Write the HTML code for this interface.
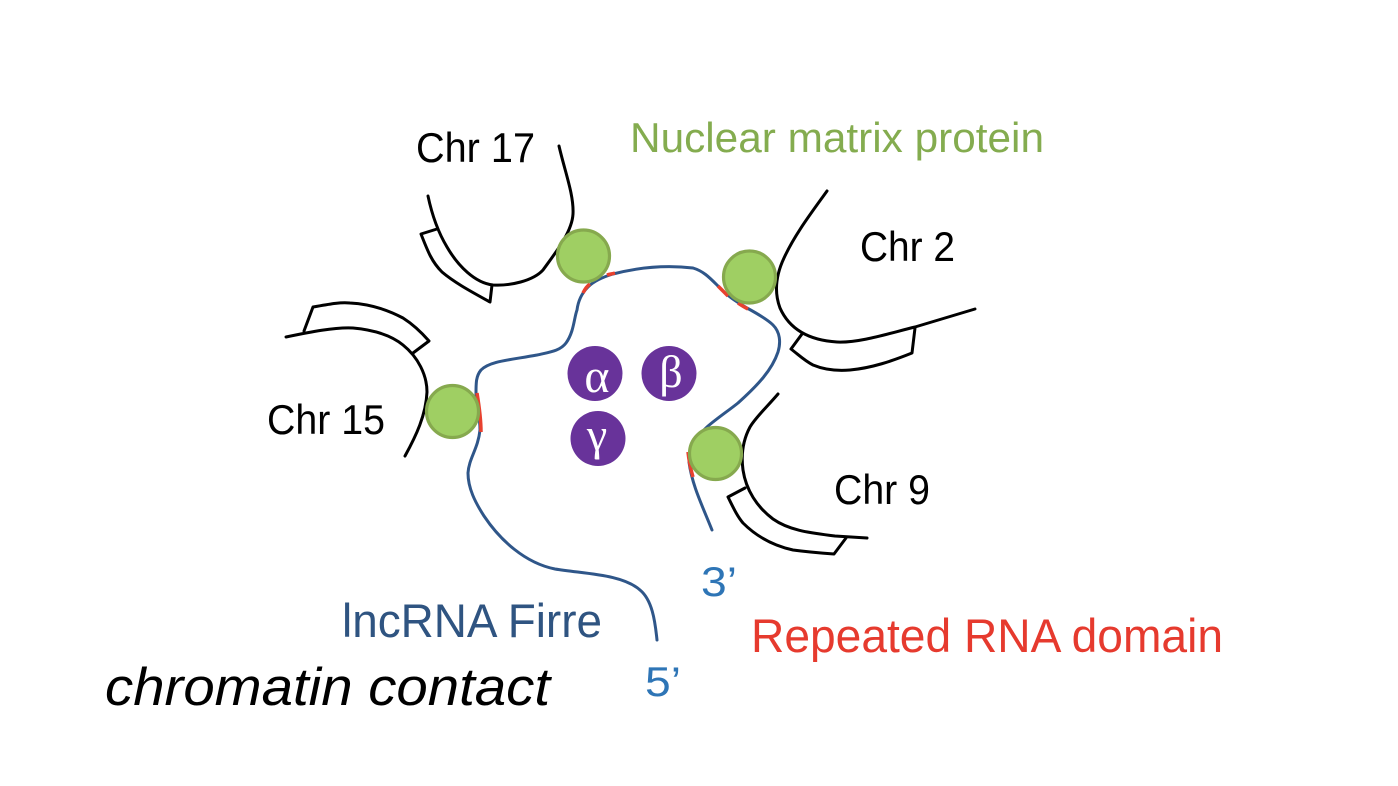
<!DOCTYPE html>
<html><head><meta charset="utf-8"><style>
html,body{margin:0;padding:0;background:#fff;width:1398px;height:786px;overflow:hidden}
svg{display:block}
text{font-family:"Liberation Sans",sans-serif}
</style></head><body>
<svg width="1398" height="786" viewBox="0 0 1398 786" xmlns="http://www.w3.org/2000/svg">
<rect width="1398" height="786" fill="#fff"/>
<g fill="none" stroke="#000" stroke-width="3" stroke-linecap="round" stroke-linejoin="round">
<path d="M559 146C565 172 574 195 573 214C572 232 556 252 543 270C533 281 510 286 493 285C475 283 458 266 447 247C438 232 432 215 428 196"/>
<path d="M437 229L421 234C428 252 432 262 442 272C455 283 472 292 490 302L492 285"/>
<path d="M286 337C310 332 335 327 353 328C375 330 392 336 403 345C418 357 427 375 427 392C426 415 416 436 405 456"/>
<path d="M304 331L313 307C330 304 340 302 350 303C370 304 388 310 403 318C414 325 422 333 429 341L413 353"/>
<path d="M827 191C812 212 795 234 784 258C776 275 774 292 780 308C788 326 805 340 837 342C860 343 890 333 915 327L975 309"/>
<path d="M802 334L791 349C800 356 805 361 813 365C825 370 838 371 850 370C872 368 892 361 912 353L915 328"/>
<path d="M778 394C766 408 756 417 750 427C743 440 741 455 743 470C746 490 757 507 773 519C790 531 812 533 835 536L867 538"/>
<path d="M745 488L728 497C733 507 737 516 743 523C757 537 775 546 793 550C808 552 820 553 834 554L846 538"/>
</g>
<path d="M657 640C655 620 652 600 640 590C622 574 585 574 555 569C525 563 500 540 484 516C475 502 468 488 468 473C469 458 478 449 480 430C480 415 476 405 476 393C476 383 476 376 481 370C490 361 510 360 537 355C550 352 560 351 566 343C574 332 574 318 577 310C578 302 581 294 588 287C594 281 603 277 613 274C640 267 667 265 693 268C703 271 709 277 717 285C727 296 737 302 747 308C758 314 768 320 773 325C780 332 781 342 778 352C772 370 758 385 738 403C728 411 716 419 707 427C695 438 689 450 689 462C692 485 702 505 712 530" fill="none" stroke="#2f5689" stroke-width="3" stroke-linecap="round"/>
<g fill="none" stroke="#e8412f" stroke-width="3.500">
<path d="M583 293C585 289 587 286 590 284"/>
<path d="M607 275C610 274 612 274 615 273"/>
<path d="M718 286C721 289 724 292 728 296"/>
<path d="M738 303C741 305 744 307 748 309"/>
<path d="M477 393C479 405 481 418 481 432"/>
<path d="M688 452C689 462 691 470 693 477"/>
</g>
<g fill="#9fcf63" stroke="#86a94e" stroke-width="3.200">
<circle cx="583.500" cy="256" r="26"/>
<circle cx="749.500" cy="277" r="26"/>
<circle cx="452.500" cy="411.500" r="26"/>
<circle cx="715.500" cy="453.500" r="26"/>
</g>
<g fill="#68339a">
<circle cx="595" cy="373.500" r="27.500"/>
<circle cx="669" cy="373.500" r="27.500"/>
<circle cx="598" cy="438.500" r="27.500"/>
</g>
<g fill="#fff" text-anchor="middle">
<text x="597" y="392" font-size="48" style="font-family:'Liberation Serif',serif">α</text>
<text x="671" y="387" font-size="46" style="font-family:'Liberation Serif',serif">β</text>
<text x="597" y="450" font-size="46" style="font-family:'Liberation Serif',serif">γ</text>
</g>
<g font-size="42" fill="#000">
<text x="416" y="162" textLength="119" lengthAdjust="spacingAndGlyphs">Chr 17</text>
<text x="860" y="261" textLength="95" lengthAdjust="spacingAndGlyphs">Chr 2</text>
<text x="267" y="434" textLength="118" lengthAdjust="spacingAndGlyphs">Chr 15</text>
<text x="834" y="504" textLength="96" lengthAdjust="spacingAndGlyphs">Chr 9</text>
</g>
<text x="630" y="152" font-size="42" fill="#84ac4f" textLength="414" lengthAdjust="spacingAndGlyphs">Nuclear matrix protein</text>
<text x="701" y="596" font-size="42" fill="#2e75b6" textLength="36" lengthAdjust="spacingAndGlyphs">3’</text>
<text x="645" y="696" font-size="42" fill="#2e75b6" textLength="36" lengthAdjust="spacingAndGlyphs">5’</text>
<text x="342" y="637" font-size="47" fill="#2f5481" textLength="260" lengthAdjust="spacingAndGlyphs">lncRNA Firre</text>
<text x="751" y="652" font-size="47" fill="#e63a2e" textLength="472" lengthAdjust="spacingAndGlyphs">Repeated RNA domain</text>
<text x="105" y="705" font-size="53" font-style="italic" fill="#000" textLength="445" lengthAdjust="spacingAndGlyphs">chromatin contact</text>
</svg>
</body></html>
